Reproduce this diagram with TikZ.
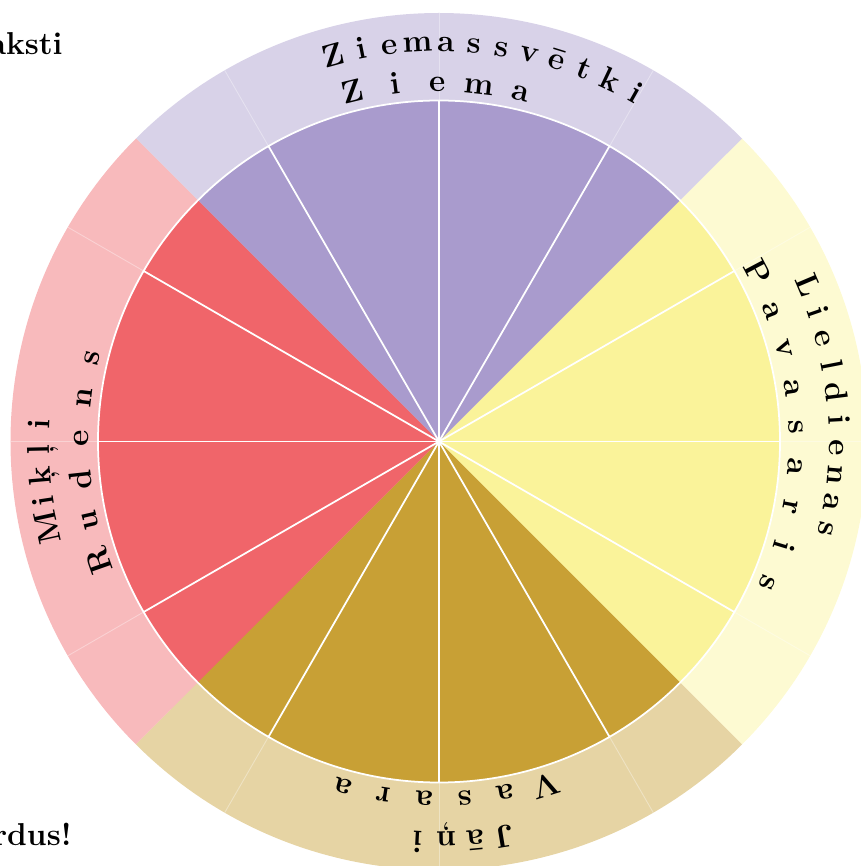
\documentclass[tikz,border=0pt]{standalone}
\usepackage{fontspec}
\usepackage{tikz}
\usetikzlibrary{positioning}

\definecolor{winter}{RGB}{169,155,205}
\definecolor{spring}{RGB}{250,243,154}
\definecolor{summer}{RGB}{200,160,53}
\definecolor{autumn}{RGB}{240,101,106}

\begin{document}
\begin{tikzpicture}[
  season/.style={fill=#1, draw=none},
  festive/.style={fill=#1!45, draw=none},
  spoke/.style={draw=white, line width=1pt},
  faint/.style={draw=white, opacity=0.35, line width=0.5pt},
  letter/.style={font=\fontsize{18}{22}\selectfont\bfseries, inner sep=0pt, anchor=base},
  corner/.style={font=\fontsize{18}{22}\selectfont\bfseries, inner sep=0pt, anchor=base east},
]
\useasboundingbox (-8.78,-8.49) rectangle (8.42,8.83);

% === Outer ring and inner disc ===
\foreach \col/\a in {spring/-45, winter/45, autumn/135, summer/225} {
  \fill[festive=\col] (\a:6.82) arc[start angle=\a, end angle=\a+90, radius=6.82]
    -- (\a+90:8.57) arc[start angle=\a+90, end angle=\a, radius=8.57] -- cycle;
  \fill[season=\col] (0,0) -- (\a:6.82) arc[start angle=\a, end angle=\a+90, radius=6.82] -- cycle;
}

% === Spokes ===
\foreach \a in {0,30,...,330} {
  \draw[spoke] (0,0) -- (\a:6.82);
  \draw[faint] (\a:6.82) -- (\a:8.57);
}
\draw[spoke] (0,0) circle[radius=6.82];

% === Curved labels ===
\foreach \nm/\word/\start/\step/\r in {
    xmas/{Z,i,e,m,a,s,s,v,ē,t,k,i}/105.3/4.07/7.8,
    easter/{L,i,e,l,d,i,e,n,a,s}/22.9/3.96/7.8,
    midsummer/{J,ā,ņ,i}/279.4/4.17/7.8,
    michaelmas/{M,i,ķ,ļ,i}/192.3/3.7/7.8,
    winter/{Z,i,e,m,a}/103.8/6.75/7.0,
    spring/{P,a,v,a,s,a,r,i,s}/27.9/6.4/7.0,
    summer/{V,a,s,a,r,a}/287.3/6.56/7.0,
    autumn/{R,u,d,e,n,s}/199.3/6.58/7.0} {
  \foreach \ch [count=\i] in \word {
    \pgfmathsetmacro\ang{\start-(\i-1)*\step}
    \node[letter, rotate=\ang-90] (\nm-\i) at (\ang:\r) {\ch};
  }
}

% === Corner texts ===
\node[corner] (top) at (-7.52,7.73) {aksti};
\node[corner] (bottom) at (-7.34,-8.07) {rdus!};

\end{tikzpicture}
\end{document}
